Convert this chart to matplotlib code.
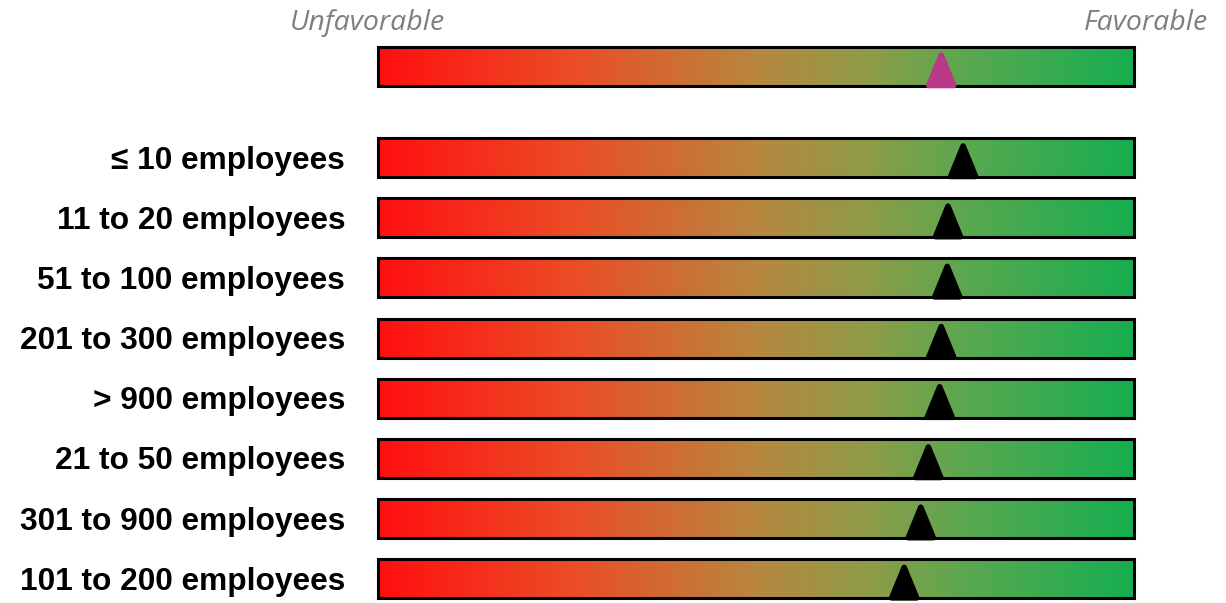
import numpy as np
import matplotlib
matplotlib.use('Agg')
from matplotlib import pyplot as plt
from matplotlib.colors import LinearSegmentedColormap
from matplotlib.patches import Rectangle, Polygon

# score on a 0-100 scale (0 = unfavorable, 100 = favorable)
overall = 74.5
groups = ['≤ 10 employees', '11 to 20 employees', '51 to 100 employees',
          '201 to 300 employees', '> 900 employees', '21 to 50 employees',
          '301 to 900 employees', '101 to 200 employees']
scores = [77.4, 75.4, 75.3, 74.5, 74.3, 72.8, 71.8, 69.6]

W, H = 1226, 603
fig = plt.figure(figsize=(W / 100, H / 100), dpi=100)
# axes spans the bar width; y runs in figure pixels (top = 0)
ax = fig.add_axes([378 / W, 0, (1134 - 378) / W, 1])
ax.set_xlim(0, 100)
ax.set_ylim(H, 0)
ax.axis('off')

cmap = LinearSegmentedColormap.from_list('fav', [
    (0.0, '#ff1010'), (0.25, '#ec4b26'), (0.5, '#b8873f'),
    (0.65, '#8e9c48'), (0.78, '#5aa850'), (1.0, '#16ae50')])
grad = np.linspace(0, 1, 512).reshape(1, -1)

bar_h = 39
px = 100 / (1134 - 378)  # x units per pixel


def draw_bar(yc, value, color):
    top, bot = yc - bar_h / 2, yc + bar_h / 2
    ax.imshow(grad, cmap=cmap, aspect='auto', extent=(0, 100, bot, top),
              interpolation='bilinear', zorder=1)
    ax.add_patch(Rectangle((0, top), 100, bar_h, fill=False, ec='black',
                           lw=2.2, zorder=2, clip_on=False))
    hw = 12.5 * px
    tri = Polygon([(value - hw, bot - 0.5), (value + hw, bot - 0.5),
                   (value, top + 8)], closed=True, fc=color, ec=color,
                  lw=4, joinstyle='round', zorder=3, clip_on=False)
    ax.add_patch(tri)


draw_bar(66.5, overall, '#b83a86')
for i, (g, s) in enumerate(zip(groups, scores)):
    yc = 157.5 + i * 60.2
    draw_bar(yc, s, 'black')
    fig.text(345 / W, 1 - (yc + 3) / H, g, ha='right', va='center',
             fontsize=22.8, fontweight='bold',
             family=['Liberation Sans', 'DejaVu Sans'])

fig.text(367 / W, 1 - 23 / H, 'Unfavorable', ha='center', va='center',
         fontsize=20.5, style='italic', color='#7f7f7f', family='Open Sans')
fig.text(1145.5 / W, 1 - 23 / H, 'Favorable', ha='center', va='center',
         fontsize=20.5, style='italic', color='#7f7f7f', family='Open Sans')

fig.savefig('out.png', dpi=100)
